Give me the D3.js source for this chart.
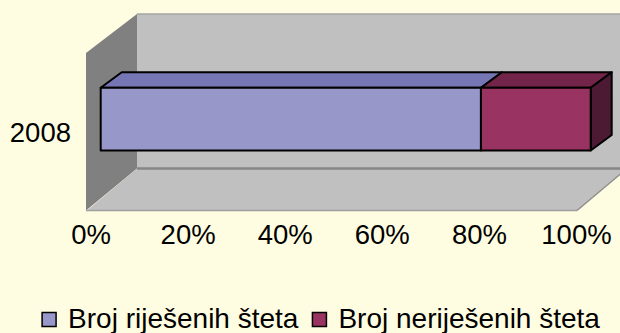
<!DOCTYPE html>
<html>
<head>
<meta charset="utf-8">
<script src="https://cdn.jsdelivr.net/npm/d3@7"></script>
<style>
  html, body { margin: 0; padding: 0; background: #FFFDE1; }
  svg { display: block; }
  text { font-family: "Liberation Sans", Arial, sans-serif; fill: #000; }
</style>
</head>
<body>
<svg id="chart" width="620" height="333"></svg>
<script>
// Share of resolved vs unresolved claims, 2008 (percent of total)
const categories = ["2008"];
const seriesNames = ["Broj riješenih šteta", "Broj neriješenih šteta"];
const resolvedPct = [77.6];
const unresolvedPct = [22.4];
const tickValues = [0, 20, 40, 60, 80, 100];
const tickLabels = ["0%", "20%", "40%", "60%", "80%", "100%"];

const faceColors = [
  { front: "#9797CA", top: "#7676B4", side: "#5C5C96" },
  { front: "#993362", top: "#722548", side: "#4C1A33" }
];

const svg = d3.select("#chart");
const W = 620, H = 333;

// 3D frame: back wall, left wall, floor
const wallTop = 14, wallBottom = 168.5, backLeft = 137, backRight = 627;
const floorFrontY = 210.5, floorFrontLeft = 87, floorFrontRight = 577, leftWallX = 86;

const frame = svg.append("g");
frame.append("rect")
  .attr("x", backLeft).attr("y", wallTop)
  .attr("width", backRight - backLeft).attr("height", wallBottom - wallTop)
  .attr("fill", "#C0C0C0");
frame.append("line")
  .attr("x1", backLeft).attr("x2", W).attr("y1", wallTop).attr("y2", wallTop)
  .attr("stroke", "#A4A4A4").attr("stroke-width", 1.5);
frame.append("path")
  .attr("d", `M${leftWallX},53 L${backLeft},${wallTop} L${backLeft},${wallBottom} L${leftWallX},${floorFrontY} Z`)
  .attr("fill", "#808080");
frame.append("path")
  .attr("d", `M${floorFrontLeft},${floorFrontY} L${backLeft},${wallBottom} L${backRight},${wallBottom} L${floorFrontRight},${floorFrontY} Z`)
  .attr("fill", "#C0C0C0");
frame.append("line")
  .attr("x1", backLeft).attr("x2", W).attr("y1", wallBottom).attr("y2", wallBottom)
  .attr("stroke", "#868686").attr("stroke-width", 2.5);
frame.append("line")
  .attr("x1", floorFrontLeft - 1).attr("x2", floorFrontRight).attr("y1", floorFrontY).attr("y2", floorFrontY)
  .attr("stroke", "#A0A0A0").attr("stroke-width", 1.5);
frame.append("line")
  .attr("x1", floorFrontRight).attr("y1", floorFrontY).attr("x2", backRight).attr("y2", wallBottom)
  .attr("stroke", "#8E8E8E").attr("stroke-width", 1.5);

// Scales
const x = d3.scaleLinear().domain([0, 100]).range([100.7, 590.7]);
const xLabels = d3.scaleLinear().domain([0, 100]).range([90.5, 576]);
const y = d3.scaleBand().domain(categories).range([87.7, 150.5]).padding(0);
const depthX = 21, depthY = -15.5;

// Stacked series
const stackInput = categories.map((c, i) => ({ cat: c, s0: resolvedPct[i], s1: unresolvedPct[i] }));
const stacked = d3.stack().keys(["s0", "s1"])(stackInput);

const bars = svg.append("g").attr("stroke", "#000").attr("stroke-width", 2).attr("stroke-linejoin", "round");

stacked.forEach((layer, si) => {
  const col = faceColors[si];
  const isLast = si === stacked.length - 1;
  layer.forEach(d => {
    const x0 = x(d[0]), x1 = x(d[1]);
    const yt = y(d.data.cat), yb = yt + y.bandwidth();
    const g = bars.append("g");
    // top face
    g.append("path")
      .attr("d", `M${x0},${yt} L${x0 + depthX},${yt + depthY} L${x1 + depthX},${yt + depthY} L${x1},${yt} Z`)
      .attr("fill", col.top);
    // right side face (only visible on the outermost segment)
    if (isLast) {
      g.append("path")
        .attr("d", `M${x1},${yt} L${x1 + depthX},${yt + depthY} L${x1 + depthX},${yb + depthY} L${x1},${yb} Z`)
        .attr("fill", col.side);
    }
    // front face
    g.append("rect")
      .attr("x", x0).attr("y", yt)
      .attr("width", x1 - x0).attr("height", yb - yt)
      .attr("fill", col.front);
  });
});

// Value axis labels
const xAxis = d3.axisBottom(xLabels)
  .tickValues(tickValues)
  .tickFormat((d, i) => tickLabels[i])
  .tickSize(0).tickPadding(0);
const axG = svg.append("g").attr("transform", "translate(0,224)").call(xAxis);
axG.select(".domain").remove();
axG.selectAll("text")
  .attr("font-size", 27.5)
  .attr("font-family", "Liberation Sans, Arial, sans-serif")
  .attr("fill", "#000")
  .attr("dy", "0.71em");

// Category labels
svg.append("g").selectAll("text")
  .data(categories)
  .join("text")
  .attr("x", 71)
  .attr("y", d => y(d) + y.bandwidth() / 2 + 23)
  .attr("text-anchor", "end")
  .attr("font-size", 27.5)
  .text(d => d);

// Legend
const legend = svg.append("g");
const items = legend.selectAll("g").data(seriesNames).join("g");
items.append("rect")
  .attr("width", 14).attr("height", 14)
  .attr("y", -15)
  .attr("fill", (d, i) => faceColors[i].front)
  .attr("stroke", "#000").attr("stroke-width", 1.5);
items.append("text")
  .attr("x", 26)
  .attr("y", 0)
  .attr("font-size", 28)
  .text(d => d);
let widths = [];
items.each(function () {
  widths.push(26 + d3.select(this).select("text").node().getComputedTextLength());
});
const gap = 14;
const total = d3.sum(widths) + gap * (widths.length - 1);
let cx = 321 - total / 2;
items.attr("transform", (d, i) => {
  const t = `translate(${cx},327.5)`;
  cx += widths[i] + gap;
  return t;
});
</script>
</body>
</html>
